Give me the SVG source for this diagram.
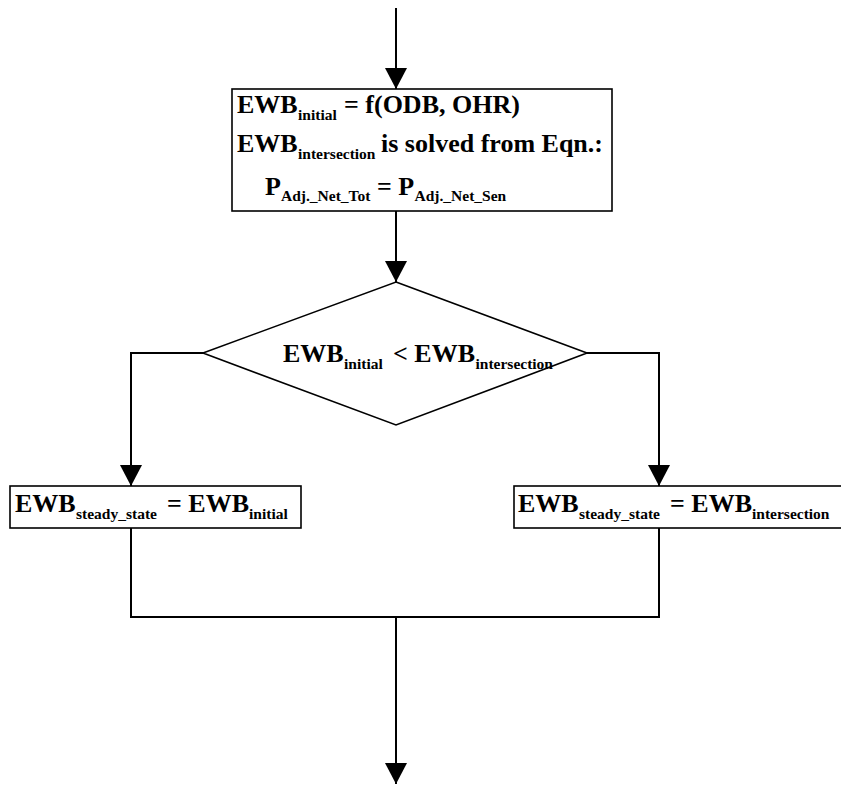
<svg xmlns="http://www.w3.org/2000/svg" width="841" height="785" viewBox="0 0 841 785">
<style>
.box{fill:#fff;stroke:#000;stroke-width:1.6}
.c{fill:none;stroke:#000;stroke-width:2}
.t{font-family:"Liberation Serif","Times New Roman",serif;font-weight:bold;font-size:26px;fill:#000}
.s{font-size:15.5px}
</style>
<defs>
<marker id="ah" markerUnits="userSpaceOnUse" markerWidth="22" markerHeight="22" viewBox="0 0 22 22" refX="21" refY="11" orient="auto">
<path d="M0,0 L21,11 L0,22 Z" fill="#000"/>
</marker>
</defs>
<rect width="841" height="785" fill="#fff"/>
<g id="connectors">
<line class="c" x1="396" y1="8" x2="396" y2="89" marker-end="url(#ah)"/>
<line class="c" x1="396" y1="211" x2="396" y2="282" marker-end="url(#ah)"/>
<polyline class="c" points="203,353 131,353 131,486" marker-end="url(#ah)"/>
<polyline class="c" points="587,353 659,353 659,486" marker-end="url(#ah)"/>
<polyline class="c" points="131,528 131,617 659,617 659,528"/>
<line class="c" x1="396" y1="617" x2="396" y2="784" marker-end="url(#ah)"/>
</g>
<g id="init">
<rect class="box" x="232" y="89" width="380" height="122"/>
<text class="t" y="113"><tspan x="237">EWB</tspan><tspan class="s" x="298" y="120">initial</tspan><tspan x="344" y="113">= f(ODB, OHR)</tspan></text>
<text class="t" y="152"><tspan x="237">EWB</tspan><tspan class="s" x="298" y="159">intersection</tspan><tspan x="381" y="152">is solved from Eqn.:</tspan></text>
<text class="t" y="195"><tspan x="265">P</tspan><tspan class="s" x="281" y="201">Adj._Net_Tot</tspan><tspan x="377" y="195">= P</tspan><tspan class="s" x="414.5" y="201">Adj._Net_Sen</tspan></text>
</g>
<g id="decision">
<polygon class="box" points="396,282 587,353 396,425 203,353"/>
<text class="t" y="362"><tspan x="283">EWB</tspan><tspan class="s" x="344" y="369">initial</tspan><tspan x="393" y="362">&lt; EWB</tspan><tspan class="s" x="475.5" y="369">intersection</tspan></text>
</g>
<g id="left">
<rect class="box" x="10" y="486" width="291" height="42"/>
<text class="t" y="512"><tspan x="15">EWB</tspan><tspan class="s" x="76" y="519">steady_state</tspan><tspan x="167" y="512">= EWB</tspan><tspan class="s" x="249" y="519">initial</tspan></text>
</g>
<g id="right">
<rect class="box" x="514" y="486" width="340" height="42"/>
<text class="t" y="512"><tspan x="518">EWB</tspan><tspan class="s" x="579" y="519">steady_state</tspan><tspan x="670" y="512">= EWB</tspan><tspan class="s" x="752" y="519">intersection</tspan></text>
</g>
</svg>
